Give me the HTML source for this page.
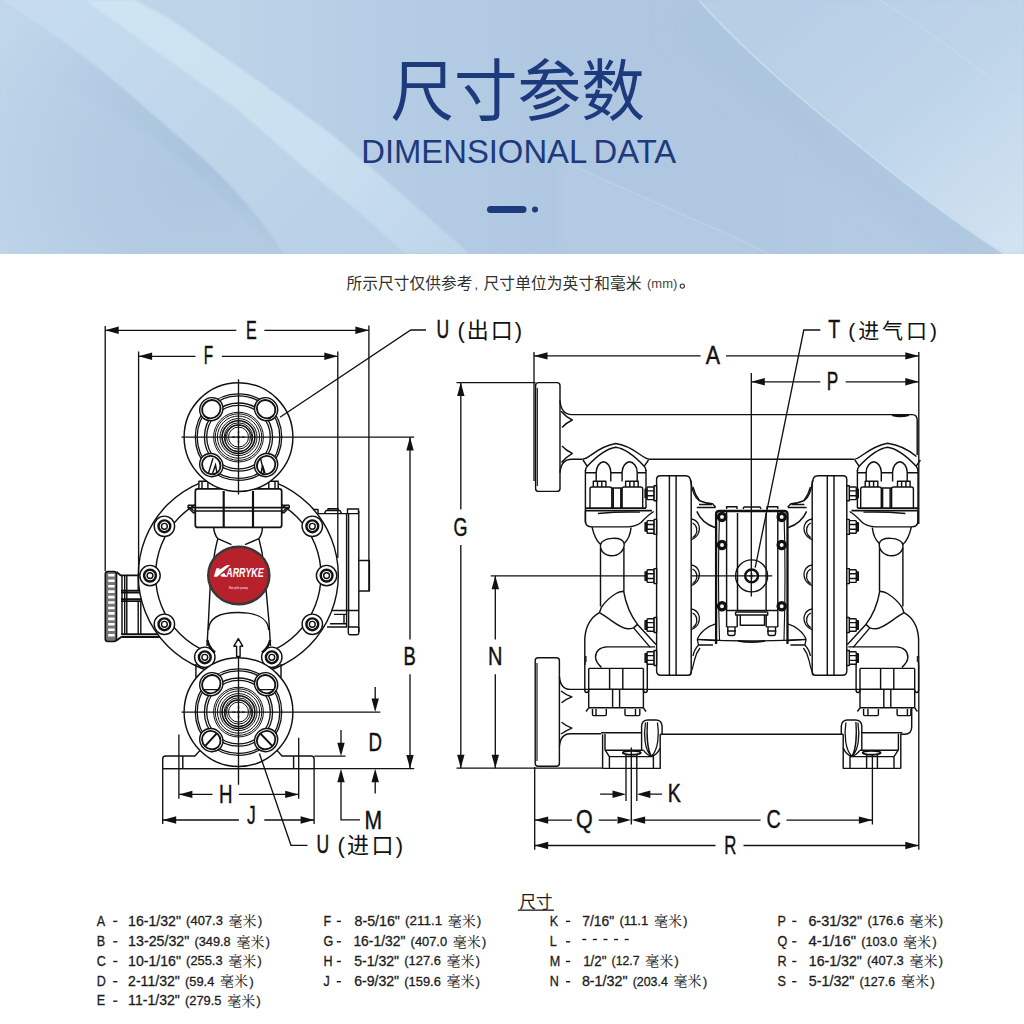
<!DOCTYPE html>
<html><head><meta charset="utf-8"><title>Dimensional Data</title>
<style>
html,body{margin:0;padding:0;background:#fff;}
body{width:1024px;height:1024px;overflow:hidden;position:relative;font-family:"Liberation Sans",sans-serif;}
#hdr{position:absolute;left:0;top:0;width:1024px;height:254px;overflow:hidden;}
#main{position:absolute;left:0;top:0;width:1024px;height:1024px;}
.en{font-family:"Liberation Sans",sans-serif;}
</style></head><body>
<svg id="hdr" width="1024" height="254" viewBox="0 0 1024 254">
<defs>
<linearGradient id="bg" x1="0" y1="0" x2="1" y2="0">
<stop offset="0" stop-color="#c0d6ea"/><stop offset="0.2" stop-color="#bdd4e8"/><stop offset="0.42" stop-color="#b3cbe3"/><stop offset="0.55" stop-color="#afc7e0"/><stop offset="0.7" stop-color="#afc7e0"/><stop offset="1" stop-color="#b6cde4"/>
</linearGradient>
<linearGradient id="rg" gradientUnits="userSpaceOnUse" x1="800" y1="0" x2="1000" y2="254"><stop offset="0" stop-color="#b7cee5"/><stop offset="0.5" stop-color="#bfd5e9"/><stop offset="1" stop-color="#d1e3f1"/></linearGradient>
<filter id="b8" x="-20%" y="-20%" width="140%" height="140%"><feGaussianBlur stdDeviation="14"/></filter>
<radialGradient id="dk" gradientUnits="userSpaceOnUse" cx="200" cy="175" r="235"><stop offset="0" stop-color="#a8c3dc"/><stop offset="0.45" stop-color="#b0c9e1"/><stop offset="1" stop-color="#c0d6ea"/></radialGradient>
<linearGradient id="mb" gradientUnits="userSpaceOnUse" x1="60" y1="0" x2="330" y2="254"><stop offset="0" stop-color="#c6dcee"/><stop offset="1" stop-color="#b9d0e6"/></linearGradient>
<linearGradient id="bb" gradientUnits="userSpaceOnUse" x1="110" y1="0" x2="440" y2="254"><stop offset="0" stop-color="#cfe4f2"/><stop offset="0.6" stop-color="#cbe0f0"/><stop offset="1" stop-color="#bfd6ea"/></linearGradient>
<filter id="b4" x="-10%" y="-10%" width="120%" height="120%"><feGaussianBlur stdDeviation="4"/></filter>
<filter id="b1" x="-5%" y="-5%" width="110%" height="110%"><feGaussianBlur stdDeviation="0.8"/></filter>
</defs>
<rect width="1024" height="254" fill="url(#bg)"/>
<!-- medium band between S curve and bright band -->
<path d="M0 0 L84 0 L112 20 L160 54.2 L238 109.8 L306.5 170 L358.6 212 L405 254 L284 254 C265 225 245 200 215 170 C195 150 170 130 134 98 C100 68 50 30 0 0Z" fill="url(#mb)" filter="url(#b1)"/>
<!-- dark pocket below S -->
<path d="M0 0 C50 30 100 68 134 98 C170 130 195 150 215 170 C245 200 265 225 284 254 L0 254Z" fill="url(#dk)" filter="url(#b1)"/>
<path d="M0 60 C90 90 190 150 277 254 L0 254Z" fill="#bdd3e8" opacity="0.35" filter="url(#b4)"/>
<!-- main bright band -->
<path d="M135 0 L171.7 20 L257.7 80.5 L331.3 134 L397.7 190.6 L470 254 L405 254 L358.6 212 L306.5 170 L238 109.8 L160 54.2 L112 20 L84 0Z" fill="url(#bb)" filter="url(#b1)"/>
<!-- right light region -->
<path d="M687 12 C708 37 733 60 757.5 82.3 C780 103 804 123 827.8 142 C851 161 874 180 898 198.4 C928 222 960 245 993 266" fill="none" stroke="#a8c2dc" stroke-width="34" opacity="0.55" filter="url(#b8)"/>
<path d="M699 0 C720 25 745 48 769.5 70.3 C792 91 816 111 839.8 130 C863 149 886 168 910 186.4 C940 210 972 233 1005 254 L1024 254 L1024 0Z" fill="url(#rg)" filter="url(#b1)"/>
<path d="M699 0 C720 25 745 48 769.5 70.3 C792 91 816 111 839.8 130 C863 149 886 168 910 186.4 C940 210 972 233 1005 254" fill="none" stroke="#d0e3f1" stroke-width="1.4" opacity="0.8"/>
<path d="M880 0 C930 30 980 70 1024 105" fill="none" stroke="#cfe1ef" stroke-width="1.2" opacity="0.5"/>
<path d="M560 160 C610 185 700 220 769.5 254 L560 254Z" fill="#bcd2e7" opacity="0.35" filter="url(#b4)"/>
<path d="M540 150 C610 185 700 220 769.5 254" fill="none" stroke="#c3d8eb" stroke-width="1.3" opacity="0.6"/>
</svg>
<svg id="main" width="1024" height="1024" viewBox="0 0 1024 1024">
<g transform="matrix(0.994 0 0 1.042 2.7 -3.7)"><text x="518" y="113.5" text-anchor="middle" font-family="'Liberation Sans', 'Noto Sans CJK SC', sans-serif" font-size="64" fill="#1d3a7c" stroke="none">尺寸参数</text></g>
<text x="518.7" y="163.2" text-anchor="middle" word-spacing="-1.5" font-family="Liberation Sans, sans-serif" font-size="32.8" fill="#1d3a7c">DIMENSIONAL DATA</text>
<rect x="487" y="206" width="39.5" height="7" rx="3.5" fill="#1d3a7c"/>
<circle cx="535" cy="209.5" r="3" fill="#1d3a7c"/>
<defs>
<g id="bolt"><circle r="10.2" fill="#fff" stroke-width="1.43"/><circle r="5.9" fill="none" stroke-width="2.42"/><circle r="2.9" fill="none" stroke-width="1.43"/></g>
<g id="flbase" fill="none" stroke="#111" stroke-width="1.3">
<circle r="54.4" fill="#fff" stroke-width="1.45"/>
<circle r="43.2"/><circle r="41.3"/>
<circle r="34.1"/><circle r="31.8"/>
<circle r="24.9" stroke-width="1"/><circle r="23.3" stroke-width="1"/>
<circle r="21.1" stroke-width="1"/><circle r="18.5" stroke-width="1"/>
<circle r="16.4" stroke-width="1.6"/>
<circle r="14.3" stroke-width="1"/><circle cy="1.2" r="13.4" stroke-width="1.1"/>
<circle r="12" stroke-width="1"/><circle r="10" stroke-width="1"/>
<path d="M-6.2 0H-3.4M-1.7 0H1.7M3.4 0H6.2M0 -6.2V-3.4M0 -1.7V1.7M0 3.4V6.2" stroke-width="1.4"/>
</g>
<g id="hole" fill="#fff" stroke="#111" stroke-width="1.43"><ellipse rx="12" ry="11.2"/><ellipse rx="9.6" ry="8.8" stroke-width="1.86"/></g>
</defs>
<g id="leftview" fill="none" stroke="#111" stroke-width="1.43" stroke-linecap="butt" stroke-linejoin="round">
<!-- left cap -->
<rect x="105.3" y="571.5" width="11.2" height="70" rx="2.5" fill="#777" stroke-width="1.6"/>
<path d="M108.2 575.3H114.6M108.2 580.8H114.6M108.2 586.2H114.6M108.2 591.6H114.6M108.2 597.1H114.6M108.2 602.5H114.6M108.2 608.0H114.6M108.2 613.4H114.6M108.2 618.9H114.6M108.2 624.3H114.6M108.2 629.8H114.6M108.2 635.2H114.6" stroke="#fff" stroke-width="2.6"/>
<path d="M116.5 572 L120.8 575.4 H139 M116.5 640.5 L121.2 637 M121.2 634.2H160 M121.2 637H162" stroke-width="1.86"/>
<path d="M122 575.4V634 M124.7 575.4V634 M126.8 575.4V634 M138.2 575.4V590 M138.2 601V634 M140.8 601V634" />
<path d="M121 590.6H140 M121 592.6H140 M121 599.2H142 M121 601.2H142" stroke-width="1.72"/>
<!-- air valve right -->
<path d="M318 513.6H358.8 M346.6 513.6V627 M348.6 513.6V627 M358.8 511V632 M358.8 560.5H369.4V591H358.8 M332 610.5H358.8 M334 614.4H347 M330 623.8H347 M327 627H347 M344 614.4V623.8"/>
<path d="M313.4 513.6V509.5H318V513.6 M324.4 513.6 L326 510.5H340L341.6 513.6 M328 510.5V508.8H338V510.5 M347.5 513.6V509H358.5V513.6 M347.5 627H358.8 M348.3 627V633Q348.3 634.7 350 634.7H357Q358.8 634.7 358.8 633V627"/>
<!-- diaphragm housing -->
<circle cx="238.3" cy="575.3" r="100" fill="#fff"/>
<circle cx="238.3" cy="575.3" r="82.7"/>
<path d="M215.5 545 L214.8 552 Q211.5 572 210 590 L208.5 620 L207 648 L212 664 H265 L270.5 648 L269 622 L266.1 590 Q265 572 262 552 L261 545Z" fill="#fff" stroke="none"/>
<use href="#bolt" x="150" y="575.6"/><use href="#bolt" x="326.6" y="575.6"/>
<use href="#bolt" x="164.4" y="526.3"/><use href="#bolt" x="312.3" y="526.3"/>
<use href="#bolt" x="164.4" y="624.3"/><use href="#bolt" x="312.3" y="624.3"/>
<use href="#bolt" x="204.8" y="657.3"/><use href="#bolt" x="271.8" y="657.3"/>
<!-- small blocks above bottom flange -->
<path d="M195.9 664V677H201.8 M281 664V677H275"/>
<!-- manifold block -->
<path d="M198.9 488.8V481.3H207.9V488.8 M202 481.3V488.8 M268.8 488.8V481.3H278.2V488.8 M275 481.3V488.8" fill="#fff"/>
<rect x="195.3" y="488.8" width="86.4" height="38.6" rx="2.5" fill="#fff" stroke-width="1.72"/>
<path d="M188 505.2H195.3 M188 505.2V507.6L193.3 512.8H195.3 M190.3 507.6L193.6 510.8 M289.3 505.2H281.7 M289.3 505.2V507.6L284 512.8H281.7 M287 507.6L283.7 510.8"/>
<path d="M188 507.6H289.3 M193.5 511H284" stroke-width="1.72"/>
<path d="M223.7 491V527.4 M253 491V527.4" stroke-width="2.15"/>
<!-- neck -->
<path d="M213.7 527.4 Q214 534 217.8 538.6 L231.5 544.6 M217.8 538.6 Q216 546 214.8 552 M262.4 527.4 Q262.2 534 258.9 538.6 L245 544.6 M258.9 538.6 Q260.5 546 262 552"/>
<path d="M214.8 552 Q211.5 572 210 590 L208.5 620 L207 646 M262 552 Q265 572 266.1 590 L269 622 L270.5 646"/>
<path d="M208.5 630 C209 617 222 612.5 237.8 612.5 C254 612.5 268 617 268.7 630"/>
<path d="M207.4 640 Q209 648 215 652.5 M270.2 640 Q268.5 648 262 652.5" stroke-width="2.40"/>
<!-- arrow -->
<path d="M238.3 638.6 L233.9 646.2H236.6V656.4H240.1V646.2H242.7Z"/>
<!-- logo -->
<ellipse cx="238.8" cy="575.5" rx="30.6" ry="28.7" fill="#b6212b" stroke="#383838" stroke-width="2.40"/>
</g>
<g font-family="Liberation Sans, sans-serif">
<path d="M213.8 576.8 L216.4 568.2 H219.8 L219.2 570 L226.4 565.3 L230.3 564.9 L217.2 576.8Z M220.3 575.3 L224.1 572.7 L226.5 576.8 H221.7Z" fill="#fff"/>
<text transform="matrix(0.715 0 0 1 226.2 576.9)" font-size="12.5" font-weight="bold" font-style="italic" fill="#fff">ARRYKE</text>
<text x="229" y="588.9" font-size="3" font-weight="bold" fill="#f3c4c7" textLength="19" lengthAdjust="spacingAndGlyphs">Karryke pump</text>
</g>
<g id="flanges" fill="none" stroke="#111" stroke-width="1.43">
<!-- top flange -->
<g transform="translate(238.5 437.1)">
<use href="#flbase"/>
<g transform="translate(-27.2 -27.9) rotate(-45)"><use href="#hole"/></g>
<g transform="translate(27.6 -27.9) rotate(45)"><use href="#hole"/></g>
<g transform="translate(-27.2 28) rotate(45)"><use href="#hole"/></g>
<g transform="translate(27.6 28) rotate(-45)"><use href="#hole"/></g>
<path d="M-30 36 L-25.5 21 M-26 36.5 L-23 28 L-21.5 36 M25.5 36 L22 21 M22.5 36.5 L24 28 L26.5 36"/>
</g>
<!-- base -->
<path d="M162.7 768.6V759Q162.7 756 165.7 756H195 Q199 751 203 748 M314.1 768.6V759Q314.1 756 311.1 756H282 Q278 751 274 748 M162.7 768.6H314.1 M182.8 756V768.6 M293.6 756V768.6" />
<!-- bottom flange -->
<g transform="translate(238.5 712.1)">
<use href="#flbase"/>
<g transform="translate(-27.2 -27.9) rotate(-45)"><use href="#hole"/></g>
<g transform="translate(27.6 -27.9) rotate(45)"><use href="#hole"/></g>
<g transform="translate(-27.2 28) rotate(45)"><use href="#hole"/></g>
<g transform="translate(27.6 28) rotate(-45)"><use href="#hole"/></g>
<path d="M-36 -22.5H-19 M19 -22.5H36" />
<path d="M-33 33.5 L-22 21.5 M21.5 21 L33.5 33.5" stroke-width="2.08"/>
</g>
</g>
<g id="dimsL" fill="none" stroke="#111" stroke-width="1.33">
<!-- E -->
<path d="M105.2 326V571 M368.9 325.5V591 M105.2 330.3H236.3 M264.4 330.3H368.9"/>
<path d="M105.2 330.3 L118.7 326.6 L118.7 334.0 Z" fill="#111" stroke="none"/><path d="M368.9 330.3 L355.4 326.6 L355.4 334.0 Z" fill="#111" stroke="none"/>
<text transform="matrix(0.6188 0 0 1 246.00 338.50)" font-size="26.02" font-family="Liberation Sans, sans-serif" fill="#111" stroke="#111" stroke-width="0.45">E</text>
<!-- F -->
<path d="M138.6 351.5V575 M337.8 351.5V558 M138.6 356.3H195.5 M221.8 356.3H337.8"/>
<path d="M138.6 356.3 L152.1 352.6 L152.1 360.0 Z" fill="#111" stroke="none"/><path d="M337.8 356.3 L324.3 352.6 L324.3 360.0 Z" fill="#111" stroke="none"/>
<text transform="matrix(0.5878 0 0 1 203.64 363.90)" font-size="26.02" font-family="Liberation Sans, sans-serif" fill="#111" stroke="#111" stroke-width="0.45">F</text>
<!-- flange centre lines -->
<path d="M181.5 437.1H414.2 M238.5 379.3V494.6 M181.5 712.1H380.3 M238.5 657V784.8"/>
<!-- U outlet leader -->
<path d="M280 417.3 L410.8 330H426"/>
<text transform="matrix(0.6734 0 0 1 436.44 338.30)" font-size="26.02" font-family="Liberation Sans, sans-serif" fill="#111" stroke="#111" stroke-width="0.45">U</text><text x="457.5" y="338" font-size="22" textLength="64.5" lengthAdjust="spacing" font-family="'Liberation Sans', 'Noto Sans CJK SC', sans-serif" fill="#111" stroke="none">(出口)</text>
<!-- B -->
<path d="M410 437.1V639.5 M410 674.3V768.2 M162.7 768.6H414.2"/>
<path d="M410.0 437.1 L406.3 450.6 L413.7 450.6 Z" fill="#111" stroke="none"/><path d="M410.0 768.4 L406.3 754.9 L413.7 754.9 Z" fill="#111" stroke="none"/>
<text transform="matrix(0.7046 0 0 1 403.55 664.90)" font-size="26.02" font-family="Liberation Sans, sans-serif" fill="#111" stroke="#111" stroke-width="0.45">B</text>
<!-- D -->
<path d="M375.2 687V700 M375.2 780V793.6"/>
<path d="M375.2 712.0 L371.5 698.5 L378.9 698.5 Z" fill="#111" stroke="none"/><path d="M375.2 768.8 L371.5 782.3 L378.9 782.3 Z" fill="#111" stroke="none"/>
<text transform="matrix(0.7186 0 0 1 368.52 751.30)" font-size="26.02" font-family="Liberation Sans, sans-serif" fill="#111" stroke="#111" stroke-width="0.45">D</text>
<!-- M -->
<path d="M314.3 756.2H345.5 M341 730V744 M341 780V819.8H360"/>
<path d="M341.0 756.2 L337.3 742.7 L344.7 742.7 Z" fill="#111" stroke="none"/><path d="M341.0 768.8 L337.3 782.3 L344.7 782.3 Z" fill="#111" stroke="none"/>
<text transform="matrix(0.8100 0 0 1 364.50 828.70)" font-size="26.02" font-family="Liberation Sans, sans-serif" fill="#111" stroke="#111" stroke-width="0.45">M</text>
<!-- H -->
<path d="M178.9 734.4V798.8 M298.7 737.8V798.8 M178.9 794.4H212.5 M238.9 794.4H298.7"/>
<path d="M178.9 794.4 L192.4 790.7 L192.4 798.1 Z" fill="#111" stroke="none"/><path d="M298.7 794.4 L285.2 790.7 L285.2 798.1 Z" fill="#111" stroke="none"/>
<text transform="matrix(0.7186 0 0 1 218.92 802.90)" font-size="26.02" font-family="Liberation Sans, sans-serif" fill="#111" stroke="#111" stroke-width="0.45">H</text>
<!-- J -->
<path d="M162.7 768.6V824 M314.1 768.6V824 M162.7 820H238.9 M264.3 820H314.1"/>
<path d="M162.7 820.0 L176.2 816.3 L176.2 823.7 Z" fill="#111" stroke="none"/><path d="M314.1 820.0 L300.6 816.3 L300.6 823.7 Z" fill="#111" stroke="none"/>
<text transform="matrix(0.6682 0 0 1 247.05 824.20)" font-size="26.02" font-family="Liberation Sans, sans-serif" fill="#111" stroke="#111" stroke-width="0.45">J</text>
<!-- U inlet leader -->
<path d="M259.4 753.5 L291 845.3H307.5"/>
<text transform="matrix(0.6734 0 0 1 316.44 853.30)" font-size="26.02" font-family="Liberation Sans, sans-serif" fill="#111" stroke="#111" stroke-width="0.45">U</text><text x="337.5" y="853.3" font-size="22" textLength="65.5" lengthAdjust="spacing" font-family="'Liberation Sans', 'Noto Sans CJK SC', sans-serif" fill="#111" stroke="none">(进口)</text>
</g>
<g id="dimsR" fill="none" stroke="#111" stroke-width="1.33">
<!-- A -->
<path d="M534 352V481 M918.8 352V524 M534 355.9H700.6 M726 355.9H918.8"/>
<path d="M534.0 355.9 L547.5 352.2 L547.5 359.6 Z" fill="#111" stroke="none"/><path d="M918.8 355.9 L905.3 352.2 L905.3 359.6 Z" fill="#111" stroke="none"/>
<text transform="matrix(0.8209 0 0 1 705.80 364.00)" font-size="26.02" font-family="Liberation Sans, sans-serif" fill="#111" stroke="#111" stroke-width="0.45">A</text>
<!-- P -->
<path d="M751.3 373V596.6 M751.3 381.8H820.3 M845.7 381.8H918.8"/>
<path d="M751.3 381.8 L764.8 378.1 L764.8 385.5 Z" fill="#111" stroke="none"/><path d="M918.8 381.8 L905.3 378.1 L905.3 385.5 Z" fill="#111" stroke="none"/>
<text transform="matrix(0.6617 0 0 1 826.68 390.20)" font-size="26.02" font-family="Liberation Sans, sans-serif" fill="#111" stroke="#111" stroke-width="0.45">P</text>
<!-- T leader -->
<path d="M755.2 567.7 L803.8 330H820.3"/>
<text transform="matrix(0.7480 0 0 1 828.26 337.90)" font-size="26.02" font-family="Liberation Sans, sans-serif" fill="#111" stroke="#111" stroke-width="0.45">T</text><text x="848.2" y="337.6" font-size="21" textLength="88.8" lengthAdjust="spacing" font-family="'Liberation Sans', 'Noto Sans CJK SC', sans-serif" fill="#111" stroke="none">(进气口)</text>
<!-- G -->
<path d="M456.5 382.6H535.6 M456.5 768.2H602.6 M460.8 382.6V509.5 M460.8 545V768.2"/>
<path d="M460.8 382.6 L457.1 396.1 L464.5 396.1 Z" fill="#111" stroke="none"/><path d="M460.8 768.2 L457.1 754.7 L464.5 754.7 Z" fill="#111" stroke="none"/>
<text transform="matrix(0.6895 0 0 1 453.60 536.10)" font-size="26.02" font-family="Liberation Sans, sans-serif" fill="#111" stroke="#111" stroke-width="0.45">G</text>
<!-- N -->
<path d="M490.8 575.8H772.3 M495.3 575.8V639.5 M495.3 674.3V768.2"/>
<path d="M495.3 575.8 L491.6 589.3 L499.0 589.3 Z" fill="#111" stroke="none"/><path d="M495.3 768.2 L491.6 754.7 L499.0 754.7 Z" fill="#111" stroke="none"/>
<text transform="matrix(0.7696 0 0 1 487.99 664.90)" font-size="26.02" font-family="Liberation Sans, sans-serif" fill="#111" stroke="#111" stroke-width="0.45">N</text>
<!-- K -->
<path d="M626 768.4V801 M636.8 768.4V801 M631.3 747.4V824.4 M600.1 794.2H613 M650 794.2H662.1"/>
<path d="M626.0 794.2 L612.5 790.5 L612.5 797.9 Z" fill="#111" stroke="none"/><path d="M636.8 794.2 L650.3 790.5 L650.3 797.9 Z" fill="#111" stroke="none"/>
<text transform="matrix(0.7536 0 0 1 667.83 802.30)" font-size="26.02" font-family="Liberation Sans, sans-serif" fill="#111" stroke="#111" stroke-width="0.45">K</text>
<!-- Q C R -->
<path d="M534.7 767V849.8 M534.7 820.1H572.1 M598.7 820.1H617 M645 820.1H760.6 M786.5 820.1H872.4 M872.4 754.6V824.4 M918.8 665V849.8 M534.7 845.5H715.5 M743.5 845.5H918.8"/>
<path d="M534.7 820.1 L548.2 816.4 L548.2 823.8 Z" fill="#111" stroke="none"/><path d="M631.0 820.1 L617.5 816.4 L617.5 823.8 Z" fill="#111" stroke="none"/><path d="M631.6 820.1 L645.1 816.4 L645.1 823.8 Z" fill="#111" stroke="none"/><path d="M872.4 820.1 L858.9 816.4 L858.9 823.8 Z" fill="#111" stroke="none"/><path d="M534.7 845.5 L548.2 841.8 L548.2 849.2 Z" fill="#111" stroke="none"/><path d="M918.8 845.5 L905.3 841.8 L905.3 849.2 Z" fill="#111" stroke="none"/>
<text transform="matrix(0.8253 0 0 1 575.93 828.30)" font-size="26.02" font-family="Liberation Sans, sans-serif" fill="#111" stroke="#111" stroke-width="0.45">Q</text>
<text transform="matrix(0.7583 0 0 1 766.60 828.30)" font-size="26.02" font-family="Liberation Sans, sans-serif" fill="#111" stroke="#111" stroke-width="0.45">C</text>
<text transform="matrix(0.6451 0 0 1 724.26 853.80)" font-size="26.02" font-family="Liberation Sans, sans-serif" fill="#111" stroke="#111" stroke-width="0.45">R</text>
</g>
<defs>
<!-- side bolt on chamber flange: tip points left, origin at chamber edge, centre y=0 -->
<g id="sbolt" fill="#fff" stroke="#111" stroke-width="1.43">
<rect x="-11.5" y="-4.2" width="2.2" height="8.4" fill="#222"/>
<rect x="-9.5" y="-6.3" width="7" height="12.6" rx="0.8"/>
<path d="M-9.5 -2.4H-2.5M-9.5 2.4H-2.5" fill="none"/>
<rect x="-2.5" y="-7.5" width="2.5" height="15"/>
</g>
<!-- dark screw on centre block -->
<g id="dscrew"><circle r="3.6" fill="#fff" stroke="#111" stroke-width="3.3"/></g>
<!-- left half of the pump (mirrored for right) -->
<g id="half" fill="none" stroke="#111" stroke-width="1.43" stroke-linejoin="round">
<!-- top clamp hump -->
<path d="M583 460 L587.3 466.3 M648.5 460 L644.2 466.3 M585.4 471 Q585.6 468 587.3 466.3 C596 457 606 448.6 615.7 447.3 C626 448.6 635.5 457 644.2 466.3 Q645.9 468 646 471"/>
<path d="M585.4 470V523 M646 470V508 M586 472.8H596.2 M610.8 472.8H622.1 M637.2 472.8H646"/>
<!-- U bolts -->
<path d="M596.2 481.5V472 C596.4 466.5 599.5 462.3 603.5 461.8 C607.5 462.3 610.6 466.5 610.8 472 V481.5 M622.1 481.5V472 C622.3 466.5 625.5 462.3 629.6 461.8 C633.7 462.3 637 466.5 637.2 472V481.5"/>
<!-- nuts -->
<path d="M593.3 487V481.2H605.9V487 M597.5 481.2V487 M601.8 481.2V487 M625.6 487V481.2H638.2V487 M629.8 481.2V487 M634 481.2V487"/>
<path d="M590 508V489Q590 487 592 487H609.5Q611.8 487 611.8 489V508 M622.1 508V489Q622.1 487 624.2 487H640.6Q642.7 487 642.7 489V508 M611.8 488H622.1 M613.3 488V508 M620.8 488V508"/>
<path d="M585.4 508.1H646 M586 510.6H652" stroke-width="1.72"/>
<path d="M598 513.5 Q620 511.5 640 512.2" stroke-width="1.29"/>
<!-- lower body of clamp -->
<path d="M585.4 510.6V521 Q585.4 526.9 592 526.9 H628 Q637 526 641.3 522.2 Q648 515 653.8 511.5"/>
<!-- neck -->
<path d="M592 526.9 Q595 540 600.6 544.5 M631.1 527.5 Q630 538 624.1 543.5"/>
<path d="M600.6 544.5 C603 537 622 536 624.1 543.5 C625 551 618 555.8 611.6 555.8 C605 555.8 599.5 551 600.6 544.5Z"/>
<path d="M600.5 548V606.4 M623.9 548V591.2"/>
<!-- elbow -->
<path d="M623.6 591.2 C626 605 631 616 637.5 624.4 L656 644.5"/>
<path d="M623.6 591.2 Q619 591.5 616 593.5 Q607 599 601.4 607.3 L599.4 612.7"/>
<path d="M599.4 612.7 C612 620 620 628.5 627.7 628.8 Q631 628.8 633.6 627.9 L637.5 624.4 M633.6 627.9 L650.2 647.4"/>
<path d="M599.4 612.7 C590 618 585.5 628 584.8 638.6 V665"/>
<path d="M601.4 667.4 Q595.5 662 595.5 657.1 Q596 647.5 607.2 646.9 H655.1"/>
<rect x="584.2" y="656" width="2.4" height="6" fill="#222" stroke="none"/>
<!-- bottom clamp -->
<path d="M588.7 668.4H643.4 M588.7 668.4V707.8 M643.4 668.4V707.8 M588.7 707.8H643.4 M588.7 689.2H643.4 M609.6 668.4V689.2 M622.8 668.4V689.2 M612.6 689.2V707.8 M619.6 689.2V707.8"/>
<path d="M584.8 662V690Q584.8 692.5 586.8 692.5 Q588.7 692.5 588.7 690 M647.3 662V690Q647.3 692.5 645.3 692.5Q643.4 692.5 643.4 690 M647.3 662 Q647 657 650 655"/>
<path d="M588.7 707.8 L586 711.5 M643.4 707.8 L646 711.5"/>
<path d="M592.5 709V714.5Q592.5 715.6 593.6 715.6H605.2Q606.3 715.6 606.3 714.5V709 M596 709V715.6 M625 709V714.5Q625 715.6 626.1 715.6H638.7Q639.8 715.6 639.8 714.5V709 M635.5 709V715.6" />
<!-- foot -->
<path d="M601.1 732.7H641.6 M602.6 734.2V768.4 M605 734V749.8L609.4 756.6V768.4 M605.5 750.3H643.6 M609.4 756.6H653.4V768.4 M602.6 768.4H660.2V734.2"/>
<path d="M641.6 751V726 Q642 720 648 720 H656 Q661.5 720 662.1 726 V734.2 H660.2"/>
<path d="M645.5 722.5 C643.5 735 644.5 750 651.5 756.3 C658 750 659.5 735 657.5 722.5 M647.5 722 C646.5 735 647.5 750 651.5 756.3" stroke-width="1.29"/>
<path d="M643.6 750.3 Q647 755 651.5 756.3 Q657 755 660.2 748"/>
<ellipse cx="631.8" cy="752.8" rx="9" ry="1.9" stroke-width="1.86"/>
<path d="M626 754.7V768.4 M636.8 754.7V768.4"/>
<!-- chamber -->
<path d="M656.6 671V479.5 Q656.6 475.8 660.5 475.8 H685 Q689 475.8 690 478.5 L691.2 482 V672.5 Q691.2 675.3 688.2 675.3 H661 Q656.6 675.3 656.6 671Z" fill="#fff"/>
<path d="M669.4 475.8V675.3 M676.1 475.8V675.3"/>
<use href="#sbolt" x="656.6" y="493.3"/><use href="#sbolt" x="656.6" y="526.9"/><use href="#sbolt" x="656.6" y="576.1"/><use href="#sbolt" x="656.6" y="625"/><use href="#sbolt" x="656.6" y="658"/>
<!-- bumps on inner side of chamber -->
<g id="bump"><path d="M691.2 519 C699 520 701 528 698 534 Q695.5 538.5 691.2 539.5 M692.5 523 C697 525 698 531 695.5 535 Q694 537 692.5 537.5" stroke-width="1.29"/></g>
<use href="#bump" y="46"/><use href="#bump" y="90"/>
<!-- wing top -->
<path d="M690.5 480 C692 490 695 498 699 500.5 Q706 503.5 712.5 503.8 L715.6 507"/>
<path d="M693 487 Q695 495 699.5 500.5 M699 504.5 H712 M696.8 507.5H715.6" stroke-width="1.29"/>
<path d="M696.8 511.4 C700 519 707 525 715.6 527.8"/>
<!-- wing bottom -->
<path d="M715.6 623.8 C708 626 700 632 697.3 639.4 L715.6 640.5 M697.3 639.4 L698.5 645 H713 M698.5 645 Q694 650 693 656 M700 648 Q696 653 694.5 660 Q693 668 690 675" stroke-width="1.29"/>
</g>
</defs>
<g id="rightview" fill="none" stroke="#111" stroke-width="1.43" stroke-linejoin="round">
<!-- top flange -->
<rect x="535.6" y="382.6" width="24.4" height="108.8" rx="3" fill="#fff"/>
<path d="M537.3 388V486" stroke-width="1.14"/>
<path d="M560 400.5 Q561 414.6 571.8 414.6 H912 Q917.2 414.6 917.2 420 V455"/>
<path d="M892 415 Q900 417.3 909 415" stroke-width="2.08"/>
<path d="M561 411.3 Q566 417 572.3 420 Q566 423 562 427.5 M562 446 Q566 450.5 572.3 453.3 Q566 457 561.5 462.5"/>
<path d="M560 472.8 Q561 459.2 571.8 459.2 H582.5 M648.9 459.2 H853.9"/>
<!-- bottom flange -->
<rect x="535.2" y="657.8" width="24.2" height="108.4" rx="3" fill="#fff"/>
<path d="M537 663V761" stroke-width="1.14"/>
<path d="M559.4 676.6 Q560.5 689.4 570.3 689.4 H588.7 M643.4 689.4H860"/>
<path d="M561 691 Q566 695 571.9 696.9 Q566 699 561.5 702.8 M561.5 722.3 Q566 726 571.9 728.1 Q566 730.5 561 734"/>
<path d="M559.4 746.5 Q560.5 733.8 570.3 733.8 H601.1 M662.1 734.2H841.3"/>
<use href="#half"/>
<path d="M582.5 459.2 C590 459 596 447 615.7 443.5 C634 446 641 458 648.9 459.2" />
<path d="M853.9 459.4 C861 459 868 447 887.5 443.2 C900 445 909 450 916.5 456.5"/>
<use href="#half" transform="translate(1503.4 0) scale(-1 1)"/>
<path d="M911.7 708V727 Q911.7 734 904.5 734.3 H900.5"/>
<!-- centre block -->
<path d="M716.1 644V514Q716.1 511 719.6 511H784Q787.5 511 787.5 514V644" stroke-width="2.3"/>
<path d="M726.6 511V626.9 M777.8 511V626.9 M737.5 513V610.5 M766.1 513V610.5 M726.6 610.5H777.8"/>
<path d="M726.6 509V506.8H737V509 M743 509 L744 507H760L761 509 M767 509V506.8H777.8V509" />
<path d="M719.5 513 Q717.5 575 719.5 640 M784 513 Q786 575 784 640" stroke-width="1.14"/>
<use href="#dscrew" x="722" y="516.9"/><use href="#dscrew" x="722" y="545"/><use href="#dscrew" x="722" y="606.3"/>
<use href="#dscrew" x="781.7" y="516.9"/><use href="#dscrew" x="781.7" y="545"/><use href="#dscrew" x="781.7" y="606.3"/>
<circle cx="751.6" cy="575.9" r="16"/><circle cx="751.6" cy="575.9" r="6.4" stroke-width="2.5"/>
<path d="M748.6 575.9H754.6 M751.6 572.9V578.9" stroke-width="1.29"/>
<path d="M735.6 612H767.7 M735.6 612V615H767.7V612 M737.2 615V626.9 M766.2 615V626.9 M740.3 615V625.3H764.5V615 M726.6 626.9H737.2 M766.2 626.9H777.8"/>
<path d="M727.8 627V633.5Q727.8 635.5 729.8 635.5H733Q735 635.5 735 633.5V627 M768 627V633.5Q768 635.5 770 635.5H773.5Q775.5 635.5 775.5 633.5V627 M727 631H736 M767 631H776.5"/>
<path d="M697.3 639.4 Q751.6 642.5 806 639.4" />
<path d="M738 640.8 Q751 643.5 765 640.8" stroke-width="1.86"/>
</g>
<g id="table" font-family="Liberation Sans, sans-serif" fill="#1c1c1c" stroke="#1c1c1c" stroke-width="0.3">
<text x="519.5" y="907.7" font-size="16.5" textLength="33" lengthAdjust="spacing" font-family="'Liberation Sans', 'Noto Sans CJK SC', sans-serif" fill="#1c1c1c" stroke="none">尺寸</text><rect x="517.9" y="909.5" width="36" height="1.3" stroke="none"/>
<text transform="matrix(0.88 0 0 1 96.8 925.6)" font-size="14.3">A</text>
<rect x="113.2" y="920.7" width="4.2" height="1.4" stroke="none"/>
<text x="128.1" y="925.6" font-size="14.3" textLength="52.8" lengthAdjust="spacingAndGlyphs">16-1/32"</text>
<text x="186.1" y="925.3" font-size="12.5" textLength="36.8" lengthAdjust="spacingAndGlyphs">(407.3</text>
<text x="228.6" y="926.1" font-size="14" font-family="'Liberation Serif', 'Noto Serif CJK SC', serif" stroke="none">毫米</text>
<text x="257.9" y="925.3" font-size="12.5">)</text>
<text transform="matrix(0.88 0 0 1 96.8 946.0)" font-size="14.3">B</text>
<rect x="113.2" y="941.1" width="4.2" height="1.4" stroke="none"/>
<text x="128.1" y="946.0" font-size="14.3" textLength="61.2" lengthAdjust="spacingAndGlyphs">13-25/32"</text>
<text x="194.5" y="945.7" font-size="12.5" textLength="36.2" lengthAdjust="spacingAndGlyphs">(349.8</text>
<text x="236.4" y="946.5" font-size="14" font-family="'Liberation Serif', 'Noto Serif CJK SC', serif" stroke="none">毫米</text>
<text x="265.7" y="945.7" font-size="12.5">)</text>
<text transform="matrix(0.88 0 0 1 96.8 965.7)" font-size="14.3">C</text>
<rect x="113.2" y="960.8" width="4.2" height="1.4" stroke="none"/>
<text x="128.1" y="965.7" font-size="14.3" textLength="52.8" lengthAdjust="spacingAndGlyphs">10-1/16"</text>
<text x="186.1" y="965.4" font-size="12.5" textLength="36.5" lengthAdjust="spacingAndGlyphs">(255.3</text>
<text x="228.3" y="966.2" font-size="14" font-family="'Liberation Serif', 'Noto Serif CJK SC', serif" stroke="none">毫米</text>
<text x="257.6" y="965.4" font-size="12.5">)</text>
<text transform="matrix(0.88 0 0 1 96.8 985.9)" font-size="14.3">D</text>
<rect x="113.2" y="981.0" width="4.2" height="1.4" stroke="none"/>
<text x="128.1" y="985.9" font-size="14.3" textLength="51.7" lengthAdjust="spacingAndGlyphs">2-11/32"</text>
<text x="185.0" y="985.6" font-size="12.5" textLength="29.3" lengthAdjust="spacingAndGlyphs">(59.4</text>
<text x="220.1" y="986.4" font-size="14" font-family="'Liberation Serif', 'Noto Serif CJK SC', serif" stroke="none">毫米</text>
<text x="249.4" y="985.6" font-size="12.5">)</text>
<text transform="matrix(0.88 0 0 1 96.8 1005.4)" font-size="14.3">E</text>
<rect x="113.2" y="1000.5" width="4.2" height="1.4" stroke="none"/>
<text x="128.1" y="1005.4" font-size="14.3" textLength="51.7" lengthAdjust="spacingAndGlyphs">11-1/32"</text>
<text x="185.0" y="1005.1" font-size="12.5" textLength="36.5" lengthAdjust="spacingAndGlyphs">(279.5</text>
<text x="227.2" y="1005.9" font-size="14" font-family="'Liberation Serif', 'Noto Serif CJK SC', serif" stroke="none">毫米</text>
<text x="256.5" y="1005.1" font-size="12.5">)</text>
<text transform="matrix(0.88 0 0 1 323.5 925.6)" font-size="14.3">F</text>
<rect x="336.8" y="920.7" width="4.2" height="1.4" stroke="none"/>
<text x="354.5" y="925.6" font-size="14.3" textLength="45.4" lengthAdjust="spacingAndGlyphs">8-5/16"</text>
<text x="405.1" y="925.3" font-size="12.5" textLength="37.0" lengthAdjust="spacingAndGlyphs">(211.1</text>
<text x="447.8" y="926.1" font-size="14" font-family="'Liberation Serif', 'Noto Serif CJK SC', serif" stroke="none">毫米</text>
<text x="477.1" y="925.3" font-size="12.5">)</text>
<text transform="matrix(0.88 0 0 1 323.5 946.0)" font-size="14.3">G</text>
<rect x="336.8" y="941.1" width="4.2" height="1.4" stroke="none"/>
<text x="353.4" y="946.0" font-size="14.3" textLength="52.0" lengthAdjust="spacingAndGlyphs">16-1/32"</text>
<text x="410.6" y="945.7" font-size="12.5" textLength="36.5" lengthAdjust="spacingAndGlyphs">(407.0</text>
<text x="452.8" y="946.5" font-size="14" font-family="'Liberation Serif', 'Noto Serif CJK SC', serif" stroke="none">毫米</text>
<text x="482.1" y="945.7" font-size="12.5">)</text>
<text transform="matrix(0.88 0 0 1 323.5 965.7)" font-size="14.3">H</text>
<rect x="336.8" y="960.8" width="4.2" height="1.4" stroke="none"/>
<text x="354.2" y="965.7" font-size="14.3" textLength="44.9" lengthAdjust="spacingAndGlyphs">5-1/32"</text>
<text x="404.3" y="965.4" font-size="12.5" textLength="36.5" lengthAdjust="spacingAndGlyphs">(127.6</text>
<text x="446.5" y="966.2" font-size="14" font-family="'Liberation Serif', 'Noto Serif CJK SC', serif" stroke="none">毫米</text>
<text x="475.8" y="965.4" font-size="12.5">)</text>
<text transform="matrix(0.88 0 0 1 323.5 985.9)" font-size="14.3">J</text>
<rect x="336.8" y="981.0" width="4.2" height="1.4" stroke="none"/>
<text x="354.2" y="985.9" font-size="14.3" textLength="44.9" lengthAdjust="spacingAndGlyphs">6-9/32"</text>
<text x="404.3" y="985.6" font-size="12.5" textLength="36.5" lengthAdjust="spacingAndGlyphs">(159.6</text>
<text x="446.5" y="986.4" font-size="14" font-family="'Liberation Serif', 'Noto Serif CJK SC', serif" stroke="none">毫米</text>
<text x="475.8" y="985.6" font-size="12.5">)</text>
<text transform="matrix(0.88 0 0 1 549.8 925.6)" font-size="14.3">K</text>
<rect x="566.0" y="920.7" width="4.2" height="1.4" stroke="none"/>
<text x="582.3" y="925.6" font-size="14.3" textLength="31.9" lengthAdjust="spacingAndGlyphs">7/16"</text>
<text x="619.4" y="925.3" font-size="12.5" textLength="28.9" lengthAdjust="spacingAndGlyphs">(11.1</text>
<text x="654.0" y="926.1" font-size="14" font-family="'Liberation Serif', 'Noto Serif CJK SC', serif" stroke="none">毫米</text>
<text x="683.3" y="925.3" font-size="12.5">)</text>
<text transform="matrix(0.88 0 0 1 549.8 946.0)" font-size="14.3">L</text>
<rect x="566.0" y="941.1" width="4.2" height="1.4" stroke="none"/>
<rect x="582.3" y="938.8" width="4" height="1.4" stroke="none"/>
<rect x="592.9" y="938.8" width="4" height="1.4" stroke="none"/>
<rect x="603.5" y="938.8" width="4" height="1.4" stroke="none"/>
<rect x="614.1" y="938.8" width="4" height="1.4" stroke="none"/>
<rect x="624.7" y="938.8" width="4" height="1.4" stroke="none"/>
<text transform="matrix(0.88 0 0 1 549.8 965.7)" font-size="14.3">M</text>
<rect x="566.0" y="960.8" width="4.2" height="1.4" stroke="none"/>
<text x="583.2" y="965.7" font-size="14.3" textLength="23.2" lengthAdjust="spacingAndGlyphs">1/2"</text>
<text x="611.6" y="965.4" font-size="12.5" textLength="27.9" lengthAdjust="spacingAndGlyphs">(12.7</text>
<text x="645.2" y="966.2" font-size="14" font-family="'Liberation Serif', 'Noto Serif CJK SC', serif" stroke="none">毫米</text>
<text x="674.5" y="965.4" font-size="12.5">)</text>
<text transform="matrix(0.88 0 0 1 549.8 985.9)" font-size="14.3">N</text>
<rect x="566.0" y="981.0" width="4.2" height="1.4" stroke="none"/>
<text x="581.9" y="985.9" font-size="14.3" textLength="45.6" lengthAdjust="spacingAndGlyphs">8-1/32"</text>
<text x="632.7" y="985.6" font-size="12.5" textLength="35.2" lengthAdjust="spacingAndGlyphs">(203.4</text>
<text x="673.6" y="986.4" font-size="14" font-family="'Liberation Serif', 'Noto Serif CJK SC', serif" stroke="none">毫米</text>
<text x="702.9" y="985.6" font-size="12.5">)</text>
<text transform="matrix(0.88 0 0 1 777.4 925.6)" font-size="14.3">P</text>
<rect x="792.2" y="920.7" width="4.2" height="1.4" stroke="none"/>
<text x="808.4" y="925.6" font-size="14.3" textLength="53.8" lengthAdjust="spacingAndGlyphs">6-31/32"</text>
<text x="867.4" y="925.3" font-size="12.5" textLength="36.4" lengthAdjust="spacingAndGlyphs">(176.6</text>
<text x="909.5" y="926.1" font-size="14" font-family="'Liberation Serif', 'Noto Serif CJK SC', serif" stroke="none">毫米</text>
<text x="938.8" y="925.3" font-size="12.5">)</text>
<text transform="matrix(0.88 0 0 1 777.4 946.0)" font-size="14.3">Q</text>
<rect x="792.2" y="941.1" width="4.2" height="1.4" stroke="none"/>
<text x="808.4" y="946.0" font-size="14.3" textLength="47.6" lengthAdjust="spacingAndGlyphs">4-1/16"</text>
<text x="861.2" y="945.7" font-size="12.5" textLength="36.2" lengthAdjust="spacingAndGlyphs">(103.0</text>
<text x="903.1" y="946.5" font-size="14" font-family="'Liberation Serif', 'Noto Serif CJK SC', serif" stroke="none">毫米</text>
<text x="932.4" y="945.7" font-size="12.5">)</text>
<text transform="matrix(0.88 0 0 1 777.4 965.7)" font-size="14.3">R</text>
<rect x="792.2" y="960.8" width="4.2" height="1.4" stroke="none"/>
<text x="808.8" y="965.7" font-size="14.3" textLength="53.0" lengthAdjust="spacingAndGlyphs">16-1/32"</text>
<text x="867.0" y="965.4" font-size="12.5" textLength="36.8" lengthAdjust="spacingAndGlyphs">(407.3</text>
<text x="909.5" y="966.2" font-size="14" font-family="'Liberation Serif', 'Noto Serif CJK SC', serif" stroke="none">毫米</text>
<text x="938.8" y="965.4" font-size="12.5">)</text>
<text transform="matrix(0.88 0 0 1 777.4 985.9)" font-size="14.3">S</text>
<rect x="792.2" y="981.0" width="4.2" height="1.4" stroke="none"/>
<text x="808.8" y="985.9" font-size="14.3" textLength="45.6" lengthAdjust="spacingAndGlyphs">5-1/32"</text>
<text x="859.6" y="985.6" font-size="12.5" textLength="35.8" lengthAdjust="spacingAndGlyphs">(127.6</text>
<text x="901.1" y="986.4" font-size="14" font-family="'Liberation Serif', 'Noto Serif CJK SC', serif" stroke="none">毫米</text>
<text x="930.4" y="985.6" font-size="12.5">)</text>
</g>
<g id="subtitle"><text x="346.5" y="288.5" font-size="15.7" textLength="126" lengthAdjust="spacing" font-family="'Liberation Sans', 'Noto Sans CJK SC', sans-serif" fill="#303030" stroke="none">所示尺寸仅供参考</text><text x="483.5" y="288.5" font-size="15.7" textLength="158" lengthAdjust="spacing" font-family="'Liberation Sans', 'Noto Sans CJK SC', sans-serif" fill="#303030" stroke="none">尺寸单位为英寸和毫米</text>
<text x="474.6" y="288.6" font-size="13" font-family="Liberation Sans, sans-serif" fill="#303030">,</text>
<text x="647" y="287.6" font-size="13" font-family="Liberation Sans, sans-serif" fill="#444">(mm)</text>
<circle cx="682.3" cy="286.1" r="2.1" fill="none" stroke="#303030" stroke-width="1.1"/></g>
</svg>
</body></html>
